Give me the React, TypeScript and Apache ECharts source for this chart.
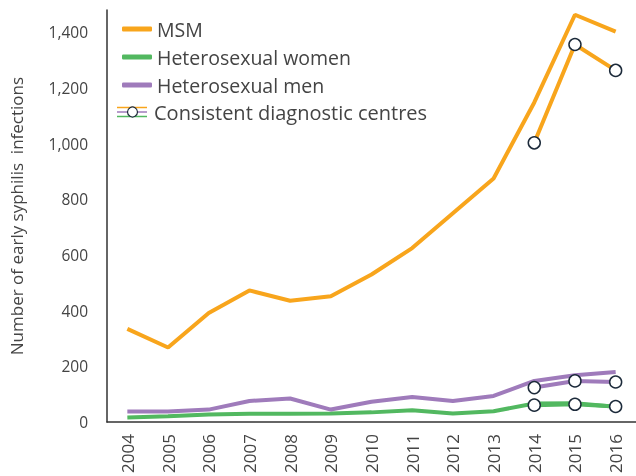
import React, { useEffect, useRef } from "react";
import * as echarts from "echarts";

const years = ["2004", "2005", "2006", "2007", "2008", "2009", "2010", "2011", "2012", "2013", "2014", "2015", "2016"];
const msm = [335, 268, 392, 473, 436, 452, 530, 625, 750, 875, 1148, 1463, 1402];
const hetWomen = [17, 21, 27, 30, 30, 31, 35, 43, 31, 39, 67, 68, 55];
const hetMen = [38, 38, 45, 76, 85, 45, 73, 90, 76, 94, 148, 168, 180];
const msmConsistent = [null, null, null, null, null, null, null, null, null, null, 1003, 1356, 1263];
const hetWomenConsistent = [null, null, null, null, null, null, null, null, null, null, 61, 64, 56];
const hetMenConsistent = [null, null, null, null, null, null, null, null, null, null, 124, 148, 144];
const yTicks = [0, 200, 400, 600, 800, 1000, 1200, 1400];

const ORANGE = "#f8a51c";
const GREEN = "#52b860";
const PURPLE = "#9f7bbb";
const TEXT = "#444444";
const FONT = "'Open Sans', sans-serif";

export default function App() {
  const ref = useRef<HTMLDivElement>(null);
  useEffect(() => {
    if (!ref.current) return;
    const chart = echarts.init(ref.current, null, { renderer: "svg" });
    const mainLine = (name: string, data: (number | null)[], color: string) => ({
      name,
      type: "line",
      data,
      showSymbol: false,
      symbol: "none",
      lineStyle: { color, width: 4 },
      itemStyle: { color },
      z: 2,
    });
    const consLine = (name: string, data: (number | null)[], color: string) => ({
      name,
      type: "line",
      data,
      symbol: "circle",
      symbolSize: 12,
      showSymbol: true,
      lineStyle: { color, width: 4 },
      itemStyle: { color: "#ffffff", borderColor: "#1c2a3a", borderWidth: 1.5 },
      z: 3,
    });
    chart.setOption({
      animation: false,
      grid: { left: 99, right: -4, top: 10, bottom: 53 },
      legend: {
        data: ["MSM", "Heterosexual women", "Heterosexual men"],
        orient: "vertical",
        left: 117,
        top: 13,
        itemWidth: 30,
        itemHeight: 5,
        itemGap: 6,
        icon: "roundRect",
        textStyle: { color: TEXT, fontSize: 19.5, fontFamily: FONT, lineHeight: 22, padding: [0, 0, 0, 0] },
      },
      xAxis: {
        type: "category",
        data: years,
        boundaryGap: true,
        axisLine: { lineStyle: { color: "#333333", width: 1.5 } },
        axisTick: { show: false },
        axisLabel: { rotate: 90, color: TEXT, fontSize: 17, fontFamily: FONT, margin: 12 },
      },
      yAxis: {
        type: "value",
        min: 0,
        max: 1480,
        interval: 200,
        name: "Number of early syphilis  infections",
        nameLocation: "middle",
        nameGap: 82,
        nameTextStyle: { color: TEXT, fontSize: 17, fontFamily: FONT },
        axisLine: { show: true, lineStyle: { color: "#333333", width: 1.5 } },
        axisTick: { show: false },
        splitLine: { show: false },
        axisLabel: {
          color: TEXT,
          fontSize: 15.5,
          fontFamily: FONT,
          margin: 19,
          showMaxLabel: false,
          formatter: (v: number) => (yTicks.includes(v) ? v.toLocaleString("en-US") : ""),
        },
      },
      series: [
        mainLine("MSM", msm, ORANGE),
        mainLine("Heterosexual women", hetWomen, GREEN),
        mainLine("Heterosexual men", hetMen, PURPLE),
        consLine("MSM consistent", msmConsistent, ORANGE),
        consLine("Heterosexual women consistent", hetWomenConsistent, GREEN),
        consLine("Heterosexual men consistent", hetMenConsistent, PURPLE),
      ],
      graphic: [
        { type: "line", shape: { x1: 117, y1: 107.5, x2: 147, y2: 107.5 }, style: { stroke: ORANGE, lineWidth: 1.5 } },
        { type: "line", shape: { x1: 117, y1: 112, x2: 147, y2: 112 }, style: { stroke: PURPLE, lineWidth: 1.5 } },
        { type: "line", shape: { x1: 117, y1: 116.5, x2: 147, y2: 116.5 }, style: { stroke: GREEN, lineWidth: 1.5 } },
        { type: "circle", shape: { cx: 132.5, cy: 112, r: 5 }, style: { fill: "#ffffff", stroke: "#1c2a3a", lineWidth: 1.2 } },
        {
          type: "text",
          x: 154,
          y: 112,
          style: { text: "Consistent diagnostic centres", fill: TEXT, fontSize: 20, fontFamily: FONT, verticalAlign: "middle" },
        },
      ],
    });
    return () => chart.dispose();
  }, []);
  return <div ref={ref} style={{ position: "fixed", left: 0, top: 0, width: 636, height: 476 }} />;
}
